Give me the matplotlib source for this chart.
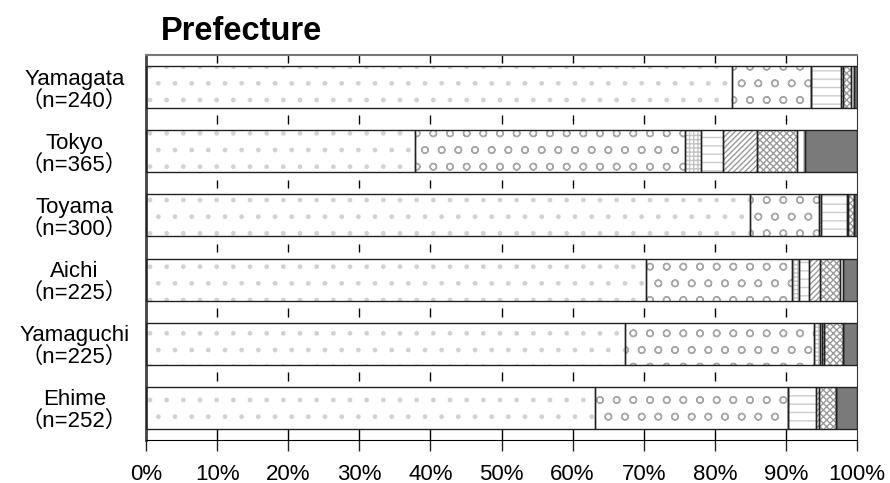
import matplotlib
matplotlib.use("Agg")
import matplotlib.pyplot as plt
import numpy as np

plt.rcParams["font.family"] = ["Liberation Sans", "Noto Sans CJK JP", "DejaVu Sans"]
plt.rcParams["hatch.linewidth"] = 1.0

# ---- data (percent of respondents per answer) ----
prefs = ["Yamagata", "Tokyo", "Toyama", "Aichi", "Yamaguchi", "Ehime"]
n_resp = [240, 365, 300, 225, 225, 252]

seg_a = [82.4, 37.9, 84.9, 70.3, 67.3, 63.2]
seg_b = [11.2, 37.9, 9.8, 20.6, 26.7, 27.1]
seg_c = [0.0, 2.2, 0.3, 0.9, 0.8, 0.0]
seg_d = [4.1, 3.1, 3.6, 1.4, 0.3, 3.9]
seg_e = [0.3, 4.9, 0.2, 1.6, 0.3, 0.4]
seg_f = [1.2, 5.5, 0.8, 2.8, 2.7, 2.5]
seg_g = [0.4, 1.2, 0.0, 0.5, 0.0, 0.0]
seg_h = [0.4, 7.3, 0.4, 1.9, 1.9, 2.9]

segs = [seg_a, seg_b, seg_c, seg_d, seg_e, seg_f, seg_g, seg_h]
# (facecolor, hatch, hatch colour)
styles = [
    ("white", ".", "#d2d2d2"),
    ("white", "o", "#a8a8a8"),
    ("white", "++++", "#c4c4c4"),
    ("white", "--", "#cccccc"),
    ("white", "//////", "#9a9a9a"),
    ("white", "xxxxx", "#9a9a9a"),
    ("white", "||", "#9a9a9a"),
    ("#7a7a7a", None, "#7a7a7a"),
]

BAR_H = 0.654

fig = plt.figure(figsize=(8.9, 4.83), dpi=100)
ax = fig.add_axes([146 / 890, 1 - 440 / 483, (857 - 146) / 890, (440 - 55) / 483])

y = np.arange(len(prefs))
left = np.zeros(len(prefs))
for vals, (fc, hatch, hc) in zip(segs, styles):
    v = np.array(vals)
    ax.barh(y, v, left=left, height=BAR_H, color=fc, hatch=hatch,
            edgecolor=hc, linewidth=0, zorder=2)
    ax.barh(y, v, left=left, height=BAR_H, fill=False,
            edgecolor="#222222", linewidth=1.0, zorder=3)
    left += v

xt = np.arange(0, 101, 10)
ax.set_xlim(0, 100)
ax.set_ylim(len(prefs) - 0.5, -0.5)

# short grid marks in the gaps between the bars
ax.vlines(xt[1:-1], -0.5, -0.375, color="black", lw=1, zorder=1)
for i in range(len(prefs) - 1):
    ax.vlines(xt[1:-1], i + 0.442, i + 0.576, color="black", lw=1, zorder=1)
ax.vlines(xt[1:-1], len(prefs) - 1 + BAR_H / 2, len(prefs) - 0.5,
          color="black", lw=1, zorder=1)

ax.set_xticks(xt)
ax.set_xticklabels([f"{t}%" for t in xt], fontsize=16)
ax.set_yticks(y)
ax.set_yticklabels([f"{p}\n（n={k}）" for p, k in zip(prefs, n_resp)],
                   fontsize=16, ha="center", multialignment="center",
                   linespacing=1.05)
ax.tick_params(axis="y", length=0, pad=(146 - 74.5) * 0.72)
ax.tick_params(axis="x", length=8, width=1, direction="out", pad=9, color="#222222")

ax.spines["left"].set_linewidth(2)
ax.spines["left"].set_color("#444444")
ax.spines["top"].set_color("#777777")
ax.spines["top"].set_linewidth(1.5)
ax.spines["bottom"].set_color("black")
ax.spines["right"].set_color("#333333")

fig.text(161 / 890, 1 - 40 / 483, "Prefecture", fontsize=23.5, fontweight="bold",
         ha="left", va="baseline")

fig.savefig("out.png", dpi=100)
